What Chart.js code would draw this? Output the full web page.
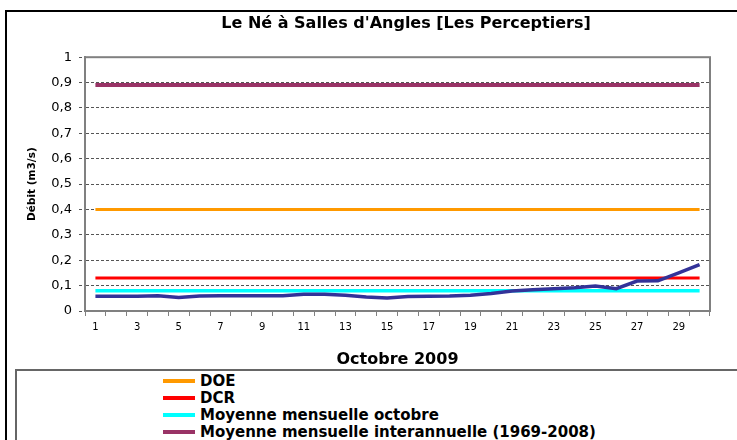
<!DOCTYPE html>
<html>
<head>
<meta charset="utf-8">
<script src="https://cdn.jsdelivr.net/npm/chart.js@4.4.0/dist/chart.umd.min.js"></script>
<style>
body { margin: 0; width: 737px; height: 440px; overflow: hidden; background: #fff; position: relative; font-family: "DejaVu Sans", Arial, sans-serif; }
#cadre { position: absolute; left: 5px; top: 10px; width: 800px; height: 500px; border: 2px solid #000; }
#graphe { position: absolute; left: 0; top: 0; }
#legende { position: absolute; left: 15px; top: 369px; width: 800px; height: 200px; border: 2px solid #666; background: #fff; }
.item { position: absolute; left: 146px; height: 17px; line-height: 17px; font-size: 15px; font-weight: bold; color: #000; white-space: nowrap; }
.trait { display: inline-block; width: 32px; height: 4px; vertical-align: middle; margin-right: 5px; position: relative; top: -1px; }
</style>
</head>
<body>
<div id="cadre"></div>
<canvas id="graphe" width="812" height="440"></canvas>
<div id="legende"></div>

<script>
// DONNEES
const jours = ['1','2','3','4','5','6','7','8','9','10','11','12','13','14','15',
               '16','17','18','19','20','21','22','23','24','25','26','27','28','29','30'];

// débit journalier mesuré (m3/s)
const debit = [0.058, 0.058, 0.058, 0.060, 0.053, 0.059, 0.060, 0.060, 0.060, 0.060,
               0.066, 0.066, 0.062, 0.055, 0.051, 0.057, 0.058, 0.059, 0.062, 0.069,
               0.079, 0.084, 0.088, 0.092, 0.098, 0.088, 0.118, 0.119, 0.150, 0.183];

// seuils et moyennes (constants sur le mois)
const doe = [0.4, 0.4, 0.4, 0.4, 0.4, 0.4, 0.4, 0.4, 0.4, 0.4, 0.4, 0.4, 0.4, 0.4, 0.4,
             0.4, 0.4, 0.4, 0.4, 0.4, 0.4, 0.4, 0.4, 0.4, 0.4, 0.4, 0.4, 0.4, 0.4, 0.4];
const dcr = [0.13, 0.13, 0.13, 0.13, 0.13, 0.13, 0.13, 0.13, 0.13, 0.13, 0.13, 0.13, 0.13, 0.13, 0.13,
             0.13, 0.13, 0.13, 0.13, 0.13, 0.13, 0.13, 0.13, 0.13, 0.13, 0.13, 0.13, 0.13, 0.13, 0.13];
const moyOctobre = [0.08, 0.08, 0.08, 0.08, 0.08, 0.08, 0.08, 0.08, 0.08, 0.08, 0.08, 0.08, 0.08, 0.08, 0.08,
                    0.08, 0.08, 0.08, 0.08, 0.08, 0.08, 0.08, 0.08, 0.08, 0.08, 0.08, 0.08, 0.08, 0.08, 0.08];
const moyInterannuelle = [0.89, 0.89, 0.89, 0.89, 0.89, 0.89, 0.89, 0.89, 0.89, 0.89, 0.89, 0.89, 0.89, 0.89, 0.89,
                          0.89, 0.89, 0.89, 0.89, 0.89, 0.89, 0.89, 0.89, 0.89, 0.89, 0.89, 0.89, 0.89, 0.89, 0.89];

const nomsLegende = ['DOE', 'DCR', 'Moyenne mensuelle octobre', 'Moyenne mensuelle interannuelle (1969-2008)'];

const police = '"DejaVu Sans", Arial, sans-serif';

// cadre gris autour de la zone de tracé
const cadrePlot = {
    id: 'cadrePlot',
    beforeDatasetsDraw(chart) {
        const { ctx, chartArea: a } = chart;
        ctx.save();
        ctx.strokeStyle = '#808080';
        ctx.lineWidth = 2;
        ctx.strokeRect(a.left, a.top, a.right - a.left, a.bottom - a.top);
        ctx.restore();
    }
};

const serie = (label, data, couleur, epaisseur) => ({
    label: label,
    data: data,
    borderColor: couleur,
    backgroundColor: couleur,
    borderWidth: epaisseur,
    pointRadius: 0,
    tension: 0,
    fill: false
});

const graphe = new Chart(document.getElementById('graphe'), {
    type: 'line',
    data: {
        labels: jours,
        datasets: [
            serie('Débit', debit, '#333399', 3.5),   // premier = dessiné au-dessus
            serie(nomsLegende[0], doe, '#FF9900', 3),
            serie(nomsLegende[1], dcr, '#FF0000', 3),
            serie(nomsLegende[2], moyOctobre, '#00FFFF', 3.5),
            serie(nomsLegende[3], moyInterannuelle, '#993366', 4)
        ]
    },
    options: {
        responsive: false,
        animation: false,
        layout: { padding: { left: 0, right: 0, top: 0, bottom: 69 } },
        plugins: {
            legend: { display: false },
            tooltip: { enabled: false },
            title: {
                display: true,
                text: "Le Né à Salles d'Angles [Les Perceptiers]",
                color: '#000',
                font: { family: police, size: 16, weight: 'bold' },
                padding: { top: 14, bottom: 24 }
            }
        },
        scales: {
            x: {
                type: 'category',
                offset: true,
                afterFit: (s) => { s.height = 60; },
                grid: { offset: true, drawOnChartArea: false, drawTicks: true, tickLength: 5, color: '#808080' },
                border: { color: '#808080', width: 2 },
                ticks: {
                    autoSkip: false,
                    maxRotation: 0,
                    padding: 5,
                    color: '#000',
                    font: { family: police, size: 10 },
                    callback: (v, i) => (i % 2 === 0 ? jours[i] : '')
                },
                title: {
                    display: true,
                    text: 'Octobre 2009',
                    color: '#000',
                    font: { family: police, size: 16, weight: 'bold' },
                    padding: { top: 0, bottom: 2 }
                }
            },
            y: {
                min: 0,
                max: 1,
                afterFit: (s) => { s.width = 85; },
                grid: { color: '#555', lineWidth: 1, tickLength: 6, tickBorderDash: [3, 2] },
                border: { display: true, color: '#808080', width: 2, dash: [3, 2] },
                ticks: {
                    stepSize: 0.1,
                    padding: 7,
                    color: '#000',
                    font: { family: police, size: 13 },
                    callback: (v) => String(Math.round(v * 10) / 10).replace('.', ',')
                },
                title: {
                    display: true,
                    text: 'Débit (m3/s)',
                    color: '#000',
                    font: { family: police, size: 10.5, weight: 'bold' },
                    padding: { top: 26, bottom: 0 }
                }
            },
            // axe vide à droite pour réserver la marge
            y2: {
                position: 'right',
                display: true,
                afterFit: (s) => { s.width = 102; },
                grid: { display: false },
                border: { display: false },
                ticks: { display: false }
            }
        }
    },
    plugins: [cadrePlot]
});

// légende construite à partir des séries
const legende = document.getElementById('legende');
graphe.data.datasets.slice(1).forEach((ds, i) => {
    const item = document.createElement('div');
    item.className = 'item';
    item.style.top = (2 + i * 17) + 'px';
    item.innerHTML = `<span class="trait" style="background:${ds.borderColor}"></span>${ds.label}`;
    legende.appendChild(item);
});
</script>
</body>
</html>
